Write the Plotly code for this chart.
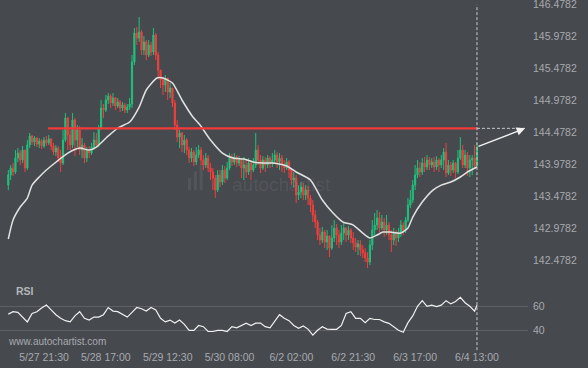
import plotly.graph_objects as go

# ---------------- data ----------------
first_open = 143.654
closes = [
    143.811, 143.920, 143.858, 144.076, 144.154, 144.045, 144.201, 143.920, 144.279, 144.420,
    144.326, 144.389, 144.295, 144.342, 144.264, 144.357, 144.311, 144.373, 144.264, 144.170,
    144.232, 144.076, 143.998, 144.357, 144.701, 144.436, 144.279, 144.670, 144.357, 144.514,
    144.201, 144.279, 144.076, 144.201, 144.154, 144.248, 144.357, 144.279, 144.545, 144.857,
    144.826, 144.983, 145.045, 144.936, 145.014, 144.889, 144.951, 144.857, 144.904, 144.826,
    144.873, 144.920, 145.576, 146.029, 145.951, 146.045, 145.764, 145.889, 145.686, 145.842,
    145.733, 146.000, 145.686, 145.451, 145.295, 145.217, 145.326, 145.108, 145.170, 144.936,
    144.592, 144.404, 144.467, 144.279, 144.357, 144.201, 144.076, 144.170, 144.014, 144.123,
    144.201, 144.045, 143.967, 144.076, 143.920, 143.858, 143.764, 143.576, 143.811, 143.701,
    143.889, 143.764, 143.920, 144.076, 144.014, 144.092, 143.998, 144.045, 143.920, 143.967,
    143.858, 143.998, 143.889, 143.967, 144.201, 144.045, 143.920, 144.045, 143.967, 144.076,
    143.998, 144.045, 144.123, 144.014, 144.076, 143.967, 143.920, 144.014, 143.889, 143.733,
    143.764, 143.498, 143.545, 143.623, 143.498, 143.576, 143.451, 143.342, 143.186, 143.076,
    142.873, 142.795, 142.920, 142.764, 142.857, 142.670, 142.826, 142.982, 142.873, 142.764,
    142.904, 142.982, 142.873, 142.951, 142.826, 142.748, 142.686, 142.733, 142.639, 142.592,
    142.514, 142.451, 142.717, 142.951, 143.029, 143.139, 142.982, 143.076, 142.951, 143.029,
    142.873, 142.795, 142.920, 142.826, 142.920, 143.029, 142.951, 143.108, 143.342, 143.420,
    143.654, 143.811, 143.920, 143.858, 143.998, 143.936, 144.045, 143.967, 144.014, 143.936,
    144.045, 143.967, 144.045, 144.170, 143.842, 143.967, 143.889, 143.998, 143.858, 144.076,
    144.201, 143.967, 144.123, 143.920, 144.045, 144.076, 143.951, 144.248,
]
highs = [
    143.889, 143.967, 143.998, 144.201, 144.232, 144.201, 144.264, 144.201, 144.357, 144.467,
    144.436, 144.420, 144.404, 144.389, 144.373, 144.404, 144.420, 144.436, 144.389, 144.311,
    144.279, 144.264, 144.201, 144.514, 144.779, 144.717, 144.514, 144.779, 144.701, 144.592,
    144.576, 144.389, 144.311, 144.248, 144.264, 144.311, 144.482, 144.467, 144.592, 144.983,
    144.920, 145.061, 145.092, 145.076, 145.092, 145.030, 145.014, 144.983, 144.951, 144.936,
    144.920, 145.014, 145.686, 146.108, 146.123, 146.279, 146.076, 145.983, 145.920, 145.920,
    145.889, 146.108, 146.029, 145.733, 145.451, 145.342, 145.373, 145.326, 145.248, 145.170,
    144.983, 144.670, 144.514, 144.482, 144.436, 144.389, 144.248, 144.232, 144.201, 144.248,
    144.279, 144.248, 144.123, 144.154, 144.123, 143.998, 143.920, 143.811, 143.889, 143.889,
    143.967, 143.951, 144.014, 144.154, 144.139, 144.154, 144.123, 144.107, 144.076, 144.092,
    144.045, 144.076, 144.045, 144.076, 144.467, 144.279, 144.123, 144.107, 144.092, 144.123,
    144.107, 144.154, 144.201, 144.170, 144.154, 144.123, 144.045, 144.076, 144.045, 143.920,
    143.858, 143.811, 143.654, 143.701, 143.686, 143.654, 143.639, 143.498, 143.420, 143.264,
    143.108, 142.982, 142.998, 142.951, 142.951, 142.873, 143.029, 143.108, 143.045, 142.951,
    143.029, 143.061, 142.998, 143.014, 142.982, 142.920, 142.826, 142.795, 142.795, 142.717,
    142.670, 142.607, 142.795, 143.108, 143.217, 143.264, 143.233, 143.186, 143.139, 143.186,
    143.076, 142.951, 142.982, 142.951, 142.982, 143.108, 143.076, 143.154, 143.451, 143.576,
    143.733, 143.967, 144.045, 144.014, 144.076, 144.092, 144.123, 144.092, 144.076, 144.092,
    144.107, 144.076, 144.123, 144.232, 144.311, 144.045, 144.014, 144.045, 144.014, 144.201,
    144.404, 144.279, 144.201, 144.170, 144.123, 144.123, 144.279, 144.311,
]
lows = [
    143.576, 143.733, 143.795, 143.826, 144.014, 143.967, 143.998, 143.858, 143.889, 144.232,
    144.279, 144.264, 144.248, 144.232, 144.217, 144.232, 144.264, 144.279, 144.201, 144.123,
    144.107, 144.014, 143.858, 143.967, 144.326, 144.201, 144.201, 144.232, 144.107, 144.248,
    144.123, 144.076, 143.998, 144.014, 144.076, 144.123, 144.201, 144.248, 144.248, 144.514,
    144.701, 144.795, 144.920, 144.857, 144.889, 144.826, 144.857, 144.795, 144.811, 144.779,
    144.779, 144.826, 144.857, 145.529, 145.842, 145.889, 145.686, 145.686, 145.608, 145.654,
    145.670, 145.686, 145.608, 145.326, 145.170, 145.061, 145.108, 144.983, 145.014, 144.873,
    144.514, 144.326, 144.232, 144.170, 144.154, 144.123, 143.998, 144.014, 143.951, 143.967,
    144.076, 143.967, 143.889, 143.920, 143.858, 143.733, 143.576, 143.451, 143.545, 143.623,
    143.654, 143.686, 143.733, 143.889, 143.951, 143.967, 143.936, 143.951, 143.764, 143.733,
    143.764, 143.811, 143.733, 143.858, 143.920, 143.967, 143.842, 143.889, 143.858, 143.920,
    143.920, 143.936, 143.983, 143.920, 143.889, 143.858, 143.842, 143.889, 143.764, 143.654,
    143.608, 143.373, 143.420, 143.451, 143.420, 143.420, 143.342, 143.233, 143.076, 142.982,
    142.795, 142.717, 142.748, 142.670, 142.639, 142.529, 142.639, 142.764, 142.717, 142.670,
    142.717, 142.795, 142.764, 142.795, 142.748, 142.639, 142.607, 142.561, 142.545, 142.514,
    142.451, 142.357, 142.404, 142.639, 142.873, 142.951, 142.920, 142.951, 142.842, 142.873,
    142.795, 142.607, 142.717, 142.701, 142.764, 142.842, 142.873, 142.904, 143.076, 143.295,
    143.373, 143.576, 143.764, 143.780, 143.811, 143.858, 143.889, 143.889, 143.920, 143.858,
    143.889, 143.858, 143.920, 143.889, 143.780, 143.811, 143.795, 143.842, 143.764, 143.826,
    144.045, 143.920, 143.920, 143.795, 143.780, 143.811, 143.920, 143.936,
]

sma_idx = [0, 2, 5, 8, 10, 13, 16, 17.5, 25, 30, 34, 37, 41.5, 46, 51, 55, 58, 62.5, 65, 69,
           73, 77.6, 80.6, 85, 90, 94.5, 99, 103, 107, 111, 117, 121, 127, 132, 136.5, 140.7,
           145, 149, 152, 155, 157.5, 160.4, 165, 168, 170, 174, 178.5, 182, 186, 190, 193, 197]
sma_val = [142.811, 143.108, 143.311, 143.451, 143.654, 143.780, 143.889, 143.936, 144.154,
           144.232, 144.201, 144.248, 144.404, 144.545, 144.639, 144.873, 145.139, 145.326,
           145.326, 145.248, 144.983, 144.717, 144.592, 144.357, 144.154, 144.076, 144.060,
           144.014, 143.998, 143.998, 143.951, 143.858, 143.733, 143.420, 143.217, 143.076,
           143.029, 142.904, 142.826, 142.873, 142.920, 142.920, 142.904, 142.982, 143.154,
           143.389, 143.576, 143.654, 143.701, 143.780, 143.858, 143.936]

rsi_val = [53.5, 55.5, 55, 51, 47, 54, 55.5, 58.5, 61, 57,
           53, 50, 48, 47, 52, 55.5, 50, 48.5, 51, 51,
           53, 59, 56, 55.5, 53, 51, 55, 59, 58, 56,
           59, 57, 50, 47, 48.5, 46, 48.5, 45, 40, 40,
           44, 43, 39, 39, 40, 40, 39, 43, 42, 44,
           46, 44, 46, 46, 43, 42, 47, 53, 50, 48,
           44, 41.7, 43.6, 41, 36, 40, 43, 41, 40.8, 40.8,
           44, 54, 55.5, 50, 50, 46.4, 50, 49, 49, 47,
           45.8, 43, 40, 38.3, 46.4, 52, 60, 64.7, 60, 61,
           59.7, 61, 64.7, 62, 64, 67.5, 63, 60, 56, 61]

tick_idx = [15, 41, 67, 93, 119, 145, 171, 197]
tick_labels = ["5/27 21:30", "5/28 17:00", "5/29 12:30", "5/30 08:00",
               "6/2 02:00", "6/2 21:30", "6/3 17:00", "6/4 13:00"]
price_ticks = [142.4782, 142.9782, 143.4782, 143.9782, 144.4782,
               144.9782, 145.4782, 145.9782, 146.4782]
rsi_ticks = [40, 60]

level = 144.54
level_start = 16.7
forecast_idx = 217.2
forecast_from = 144.248

# ---------------- figure ----------------
idx = list(range(len(closes)))
opens = [first_open] + closes[:-1]
rsi_idx = list(range(0, len(closes), 2)) + [len(closes) - 1]
last = idx[-1]

BG = "#46494e"
TXT = "#a7aaae"
GREEN = "#1fc27c"
RED = "#f0403e"

fig = go.Figure()

fig.add_trace(go.Candlestick(
    x=idx, open=opens, high=highs, low=lows, close=closes,
    xaxis="x2", yaxis="y",
    increasing=dict(line=dict(color=GREEN, width=1), fillcolor=GREEN),
    decreasing=dict(line=dict(color=RED, width=1), fillcolor=RED),
    whiskerwidth=0, hoverinfo="skip", showlegend=False,
))
fig.add_trace(go.Scatter(
    x=sma_idx, y=sma_val, mode="lines", xaxis="x2", yaxis="y",
    line=dict(color="#e2e2e2", width=1.5, shape="spline", smoothing=0.6),
    hoverinfo="skip", showlegend=False,
))
fig.add_trace(go.Scatter(
    x=[level_start, last], y=[level, level], mode="lines", xaxis="x2", yaxis="y",
    line=dict(color="#f23a3a", width=2.2), hoverinfo="skip", showlegend=False,
))
fig.add_trace(go.Scatter(
    x=[last, forecast_idx], y=[level, level], mode="lines", xaxis="x2", yaxis="y",
    line=dict(color="#c9c9c9", width=1, dash="3px,2px"), hoverinfo="skip", showlegend=False,
))
fig.add_trace(go.Scatter(
    x=rsi_idx, y=rsi_val, mode="lines", xaxis="x", yaxis="y2",
    line=dict(color="#f0f0f0", width=1.2), hoverinfo="skip", showlegend=False,
))

fig.add_annotation(
    x=forecast_idx, y=level, xref="x2", yref="y",
    ax=last, ay=forecast_from, axref="x2", ayref="y",
    showarrow=True, arrowhead=2, arrowsize=1.2, arrowwidth=1.4, arrowcolor="#f2f2f2", text="",
)

# vertical dashed "now" line
fig.add_shape(type="line", xref="x2", yref="paper", x0=last, x1=last, y0=-0.012, y1=0.986,
              line=dict(color="#c9c9c9", width=1, dash="3px,2px"))

# watermark
fig.add_annotation(x=0.534, y=0.466, xref="paper", yref="paper", text="autochartist",
                   showarrow=False, font=dict(family="Liberation Sans", size=19,
                                              color="rgba(255,255,255,0.08)"))
for x0, x1, y0 in [(0.356, 0.362, 0.455), (0.367, 0.373, 0.475), (0.378, 0.384, 0.495)]:
    fig.add_shape(type="rect", xref="paper", yref="paper", x0=x0, x1=x1, y0=0.45, y1=y0 + 0.03,
                  fillcolor="rgba(255,255,255,0.07)", line=dict(width=0), layer="below")

fig.add_annotation(x=0.026, y=0.159, xref="paper", yref="paper", text="<b>RSI</b>",
                   xanchor="left", yanchor="middle", showarrow=False,
                   font=dict(family="Liberation Sans", size=10.5, color="#b3b6ba"))
fig.add_annotation(x=0.011, y=0.012, xref="paper", yref="paper", text="www.autochartist.com",
                   xanchor="left", yanchor="middle", showarrow=False,
                   font=dict(family="Liberation Sans", size=10, color=TXT))

xr = [-3.49, 218.45]
fig.update_layout(
    width=588, height=368,
    margin=dict(l=0, r=60, t=0, b=22, autoexpand=False),
    paper_bgcolor=BG, plot_bgcolor=BG,
    font=dict(family="Liberation Sans", size=10.5, color=TXT),
    xaxis=dict(domain=[0, 1], anchor="y2", range=xr, tickvals=tick_idx, ticktext=tick_labels,
               showgrid=False, zeroline=False, showline=False, ticks="", fixedrange=True,
               automargin=False, ticklabelstandoff=3, ticklabeloverflow="allow"),
    xaxis2=dict(domain=[0, 1], anchor="y", range=xr, matches="x", showticklabels=False,
                showgrid=False, zeroline=False, showline=False, ticks="", automargin=False,
                rangeslider=dict(visible=False)),
    yaxis=dict(domain=[0.1965, 1], anchor="x2", side="right", range=[142.2017, 146.5454],
               tickvals=price_ticks, ticktext=[f"{v:.4f}" for v in price_ticks],
               showgrid=False, zeroline=False, showline=False, ticks="", ticklabelstandoff=4,
               automargin=False, ticklabeloverflow="allow"),
    yaxis2=dict(domain=[0, 0.185], anchor="x", side="right", range=[26.92, 80.25],
                tickvals=rsi_ticks, showgrid=True, gridcolor="#5d6166", gridwidth=1,
                zeroline=False, showline=False, ticks="", ticklabelstandoff=4,
                automargin=False, ticklabeloverflow="allow"),
)

fig.write_html(
    "out.html",
    config={"displayModeBar": False, "staticPlot": True},
    post_script="document.body.style.margin='0';document.body.style.padding='0';"
                "document.body.style.background='#46494e';",
)
